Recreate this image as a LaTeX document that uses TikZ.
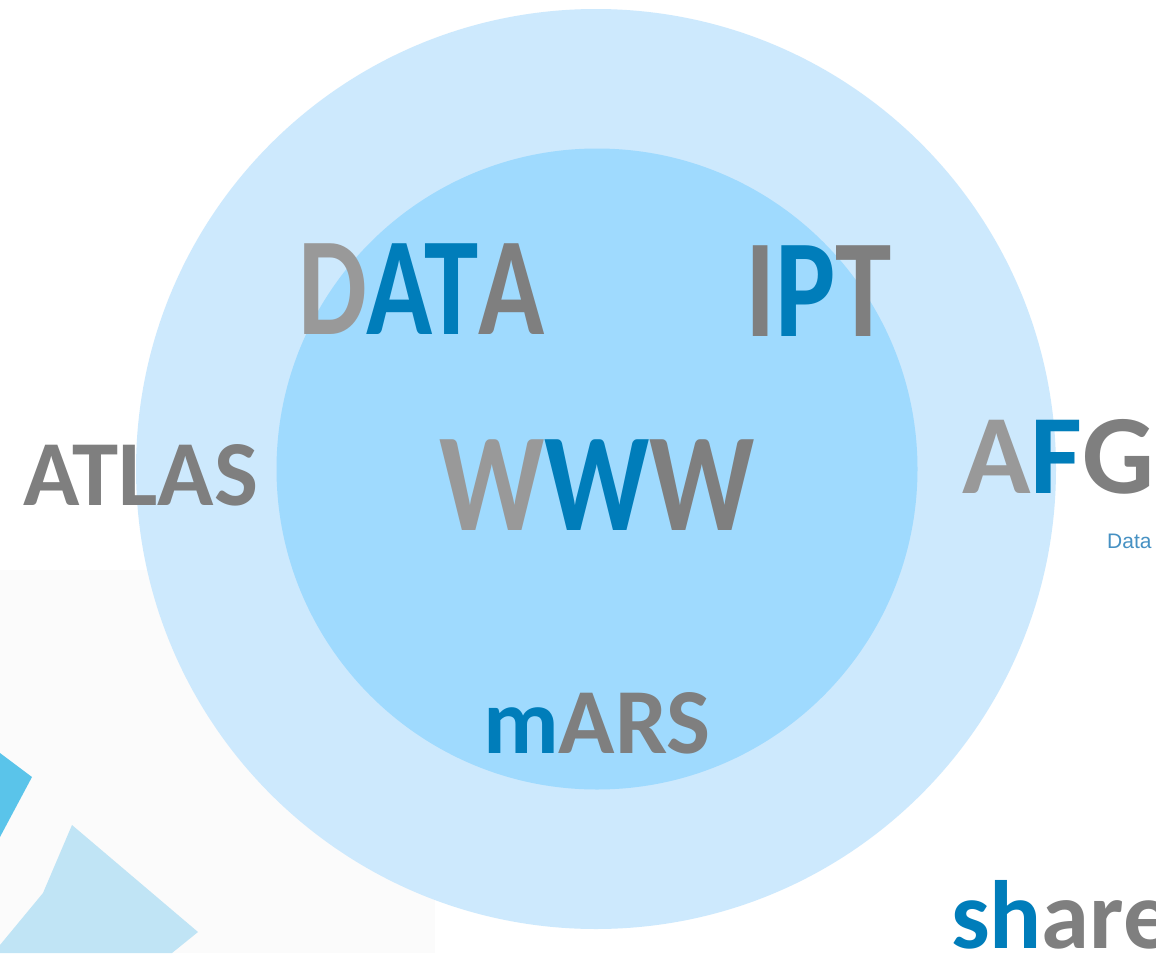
\documentclass[tikz,border=0pt]{standalone}
\usepackage{fontspec}
\setmainfont{Carlito}
\newfontfamily\datafont{Liberation Sans}
\definecolor{outerblue}{RGB}{205,233,253}
\definecolor{innerblue}{RGB}{159,218,254}
\definecolor{lightgray}{RGB}{153,153,153}
\definecolor{darkgray}{RGB}{127,127,127}
\definecolor{brandblue}{RGB}{0,125,186}
\definecolor{datablue}{RGB}{70,145,195}
\definecolor{panel}{RGB}{251,251,251}
\definecolor{cyanshape}{RGB}{90,196,234}
\definecolor{paleshape}{RGB}{192,228,245}
\newcommand{\lgray}[1]{{\color{lightgray}#1}}
\newcommand{\dgray}[1]{{\color{darkgray}#1}}
\newcommand{\bblue}[1]{{\color{brandblue}#1}}
\begin{document}
\begin{tikzpicture}[x=1pt,y=-1pt,
  word/.style={inner sep=0pt, anchor=base west},
  bigword/.style={word, font=\bfseries\fontsize{140}{140}\selectfont}]
\useasboundingbox (0,0) rectangle (1156,953);
\fill[white] (0,0) rectangle (1156,953);
% pale panel and the corner shapes
\fill[panel] (0,570) rectangle (435,953);
\fill[cyanshape] (0,753) -- (32,777) -- (0,837) -- cycle;
\fill[paleshape] (72,825) -- (198,932) -- (172,953) -- (0,953) -- (0,945) -- (43,893) -- cycle;
% the two circles
\fill[outerblue] (596,469) circle[radius=460];
\fill[innerblue] (597,469) circle[radius=320.5];
% words
\node[bigword, xscale=0.78] (data) at (298,334) {\lgray{D}\bblue{AT}\dgray{A}};
\node[bigword, xscale=0.81] (ipt) at (745,336) {\dgray{I}\bblue{P}\dgray{T}};
\node[bigword, xscale=0.83] (www) at (439,530) {\lgray{W}\bblue{W}\dgray{W}};
\node[word, font=\bfseries\fontsize{93}{93}\selectfont] (atlas) at (23,505) {\dgray{ATLAS}};
\node[word, font=\bfseries\fontsize{113}{113}\selectfont] (afg) at (962,493) {\lgray{A}\bblue{F}\dgray{G}};
\node[word, font=\bfseries\fontsize{93}{93}\selectfont] (mars) at (483,753) {\bblue{m}\dgray{ARS}};
\node[word, font=\bfseries\fontsize{97}{97}\selectfont] (share) at (951,948) {\bblue{sh}\dgray{are}};
\node[inner sep=0pt, anchor=base west, font=\datafont\fontsize{21}{21}\selectfont, text=datablue] (datal) at (1107,548) {Data};
\end{tikzpicture}
\end{document}
